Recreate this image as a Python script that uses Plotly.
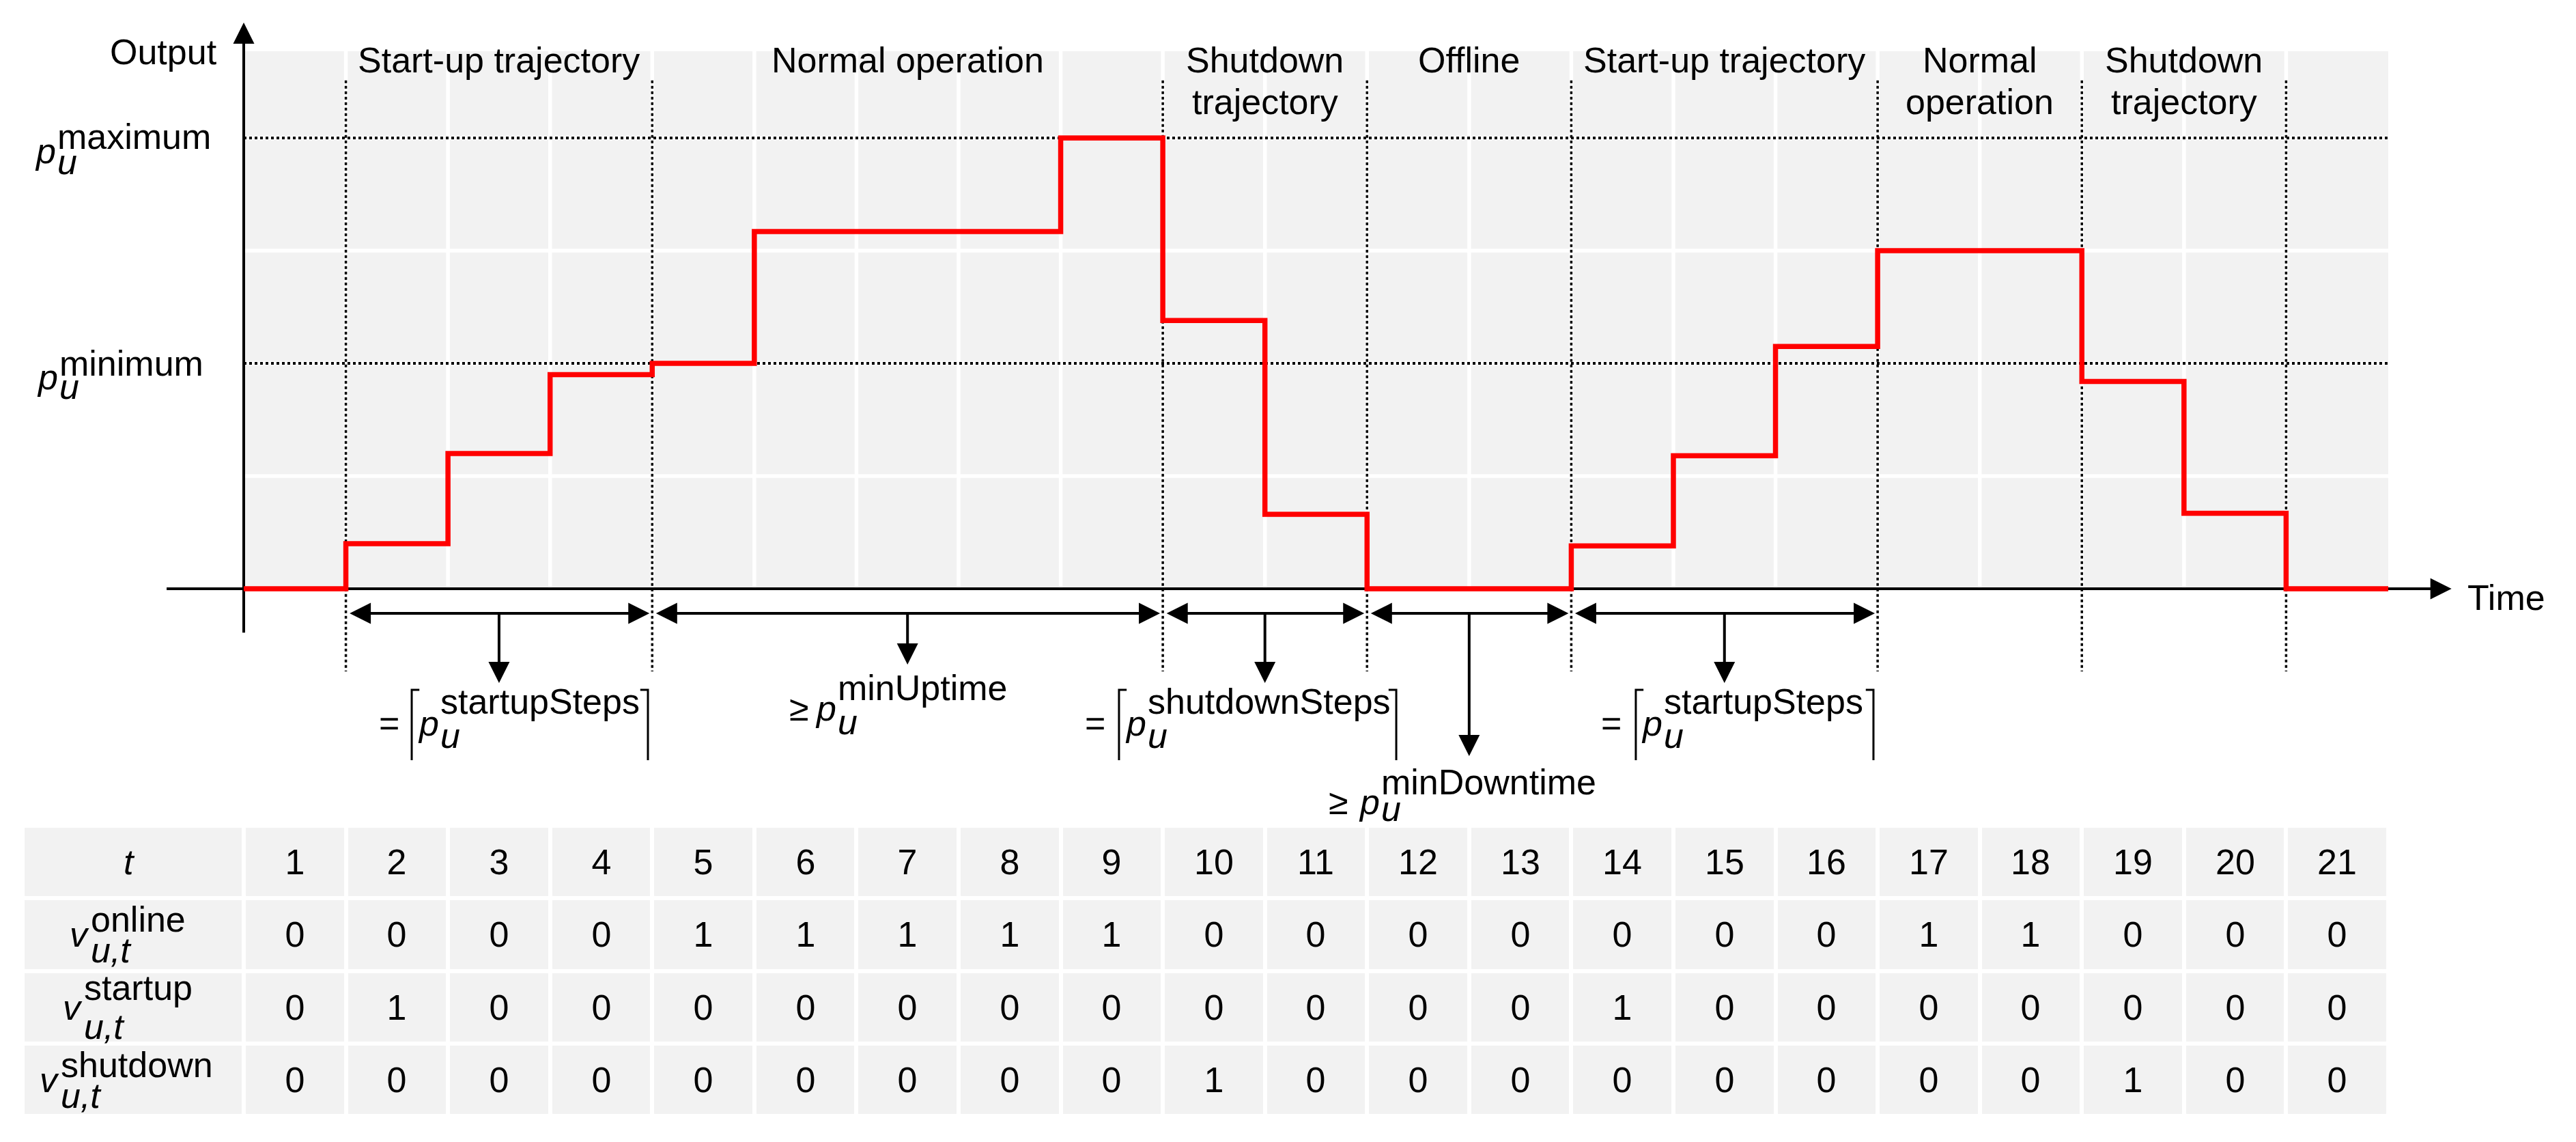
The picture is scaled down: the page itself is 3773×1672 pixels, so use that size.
import plotly.graph_objects as go

# time periods and unit output (grid units: 1 grid cell = 1, p_min = 2, p_max = 4)
periods = list(range(1, 22))
output = [0, 0.4, 1.2, 1.9, 2.0, 3.17, 3.17, 3.17, 4.0, 2.38, 0.66,
          0, 0, 0.38, 1.18, 2.15, 3.0, 3.0, 1.84, 0.67, 0]
p_minimum = 2
p_maximum = 4

# binary variables shown in the table
v_online = [0, 0, 0, 0, 1, 1, 1, 1, 1, 0, 0, 0, 0, 0, 0, 0, 1, 1, 0, 0, 0]
v_startup = [0, 1, 0, 0, 0, 0, 0, 0, 0, 0, 0, 0, 0, 1, 0, 0, 0, 0, 0, 0, 0]
v_shutdown = [0, 0, 0, 0, 0, 0, 0, 0, 0, 1, 0, 0, 0, 0, 0, 0, 0, 0, 1, 0, 0]

# phases between the dotted boundaries
phase_edges = [1, 4, 9, 11, 13, 16, 18, 20]
phase_names = [
    "Start-up trajectory",
    "Normal operation",
    "Shutdown<br>trajectory",
    "Offline",
    "Start-up trajectory",
    "Normal<br>operation",
    "Shutdown<br>trajectory",
]

FONT = "Liberation Sans, Arial, sans-serif"
FS = 52
W, H = 3773, 1672
TOP = 4.77  # top of the grey area

fig = go.Figure()

# output trajectory
fig.add_trace(go.Scatter(
    x=list(range(len(output) + 1)),
    y=output + [output[-1]],
    mode="lines",
    line=dict(color="#ff0000", width=7.5, shape="hv"),
    hoverinfo="skip",
    showlegend=False,
))

# table as heatmap bricks on its own y axis (row 0 on top)
row_vals = [periods, v_online, v_startup, v_shutdown]
cell_text = [[""] + [str(v) for v in row] for row in row_vals]
fig.add_trace(go.Heatmap(
    z=[[0] * (len(periods) + 1) for _ in row_vals],
    x=[-2.166] + list(range(0, len(periods) + 1)),
    y=list(range(len(row_vals))),
    yaxis="y2",
    text=cell_text,
    texttemplate="%{text}",
    textfont=dict(family=FONT, size=FS, color="black"),
    colorscale=[[0, "#f2f2f2"], [1, "#f2f2f2"]],
    zmin=0, zmax=1,
    xgap=6, ygap=6,
    showscale=False,
    hoverinfo="skip",
))

shapes = []


def line(x0, y0, x1, y1, color="black", width=4, dash="solid", layer="below"):
    shapes.append(dict(type="line", xref="x", yref="y", x0=x0, y0=y0, x1=x1, y1=y1,
                       line=dict(color=color, width=width, dash=dash), layer=layer))


# grey plotting area with white grid
shapes.append(dict(type="rect", xref="x", yref="y", x0=0, y0=0, x1=len(periods), y1=TOP,
                   fillcolor="#f2f2f2", line=dict(width=0), layer="below"))
for gx in range(1, len(periods)):
    line(gx, 0, gx, TOP, color="white", width=5.5)
for gy in range(1, p_maximum + 1):
    line(0, gy, len(periods), gy, color="white", width=5.5)

# p_min / p_max levels and phase boundaries
for lev in (p_minimum, p_maximum):
    line(0, lev, len(periods), lev, width=4, dash="4px,4px")
for ex in phase_edges:
    line(ex, 4.51, ex, -0.733, width=3.5, dash="4px,4px")

# axes
line(0, -0.39, 0, 4.9)
line(-0.755, 0, 21.3, 0)

annotations = []


def text(x, y, s, yref="y", xanchor="center", yshift=0, size=FS):
    annotations.append(dict(x=x, y=y, xref="x", yref=yref, text=s, showarrow=False,
                            xanchor=xanchor, yanchor="middle", yshift=yshift,
                            borderpad=0, font=dict(family=FONT, size=size, color="black")))


def stacked(x, y, base, sup, sub, sup_dy, sub_dy, yref="y"):
    text(x, y, base, yref=yref, xanchor="right")
    text(x, y, sup, yref=yref, xanchor="left", yshift=sup_dy)
    text(x, y, sub, yref=yref, xanchor="left", yshift=-sub_dy)


def arrow(x, y, ax, ay, both=False, width=4):
    annotations.append(dict(x=x, y=y, ax=ax, ay=ay, xref="x", yref="y", axref="x", ayref="y",
                            text="", showarrow=True, arrowhead=2, arrowsize=1.55,
                            arrowwidth=width, arrowcolor="black",
                            arrowside="end+start" if both else "end",
                            startarrowhead=2, startarrowsize=1.55))


# axis arrow heads and titles
arrow(0, 5.024, 0, 4.6)
arrow(21.62, 0, 21.0, 0)
text(-0.254, 4.764, "Output", xanchor="right")
text(21.77, -0.079, "Time", xanchor="left")

# phase labels
for name, a, b in zip(phase_names, phase_edges[:-1], phase_edges[1:]):
    lines = name.split("<br>")
    for i, ln in enumerate(lines):
        text((a + b) / 2, 4.69 - 0.37 * i, ln)

# y level labels
stacked(-1.832, 3.883, "<i>p</i>", "maximum", "<i>u</i>", 21.5, 15.5)
stacked(-1.812, 1.880, "<i>p</i>", "minimum", "<i>u</i>", 20, 14)

# duration arrows below the time axis
arrow_y = -0.218
drop_tip = [-0.836, -0.673, -0.836, -1.485, -0.836]
for k in range(5):
    a, b = phase_edges[k], phase_edges[k + 1]
    arrow(b - 0.027, arrow_y, a + 0.027, arrow_y, both=True)
    arrow((a + b) / 2, drop_tip[k], (a + b) / 2, arrow_y)

# duration labels
eq_y = -1.193
for eq_x, sx, sup, bl, br in [
    (1.424, 1.919, "startupSteps", 1.645, 3.958),
    (8.337, 8.845, "shutdownSteps", 8.571, 11.286),
    (13.392, 13.900, "startupSteps", 13.632, 15.959),
]:
    text(eq_x, eq_y, "=")
    stacked(sx, eq_y, "<i>p</i>", sup, "<i>u</i>", 32, 18)
    for bx, d in ((bl, 0.075), (br, -0.075)):
        shapes.append(dict(type="path", xref="x", yref="y",
                           path=f"M{bx + d},-0.897 L{bx},-0.897 L{bx},-1.521",
                           line=dict(color="black", width=3), layer="above"))

text(5.436, -1.059, "≥")
stacked(5.810, -1.059, "<i>p</i>", "minUptime", "<i>u</i>", 30, 20)
text(10.72, -1.891, "≥")
stacked(11.13, -1.891, "<i>p</i>", "minDowntime", "<i>u</i>", 29, 10)

# table row labels
text(-1.123, 0, "<i>t</i>", yref="y2")
stacked(-1.504, 1, "<i>v</i>", "online", "<i>u,t</i>", 22, 23, yref="y2")
stacked(-1.571, 2, "<i>v</i>", "startup", "<i>u,t</i>", 29, 28, yref="y2")
stacked(-1.798, 3, "<i>v</i>", "shutdown", "<i>u,t</i>", 22, 23, yref="y2")

px_x = 149.57
px_y = 165.0
fig.update_layout(
    width=W, height=H,
    margin=dict(l=0, r=0, t=0, b=0),
    paper_bgcolor="white", plot_bgcolor="white",
    showlegend=False,
    xaxis=dict(range=[-357 / px_x, (W - 357) / px_x], visible=False, fixedrange=True),
    yaxis=dict(range=[(862 - H) / px_y, 862 / px_y], visible=False, fixedrange=True),
    yaxis2=dict(range=[(H - 1262) / 106.3, -1262 / 106.3], overlaying="y",
                visible=False, fixedrange=True),
    shapes=shapes,
    annotations=annotations,
)

fig.write_html(
    "out.html",
    config={"displayModeBar": False},
    post_script="document.body.style.margin='0';document.body.style.overflow='hidden';",
)
